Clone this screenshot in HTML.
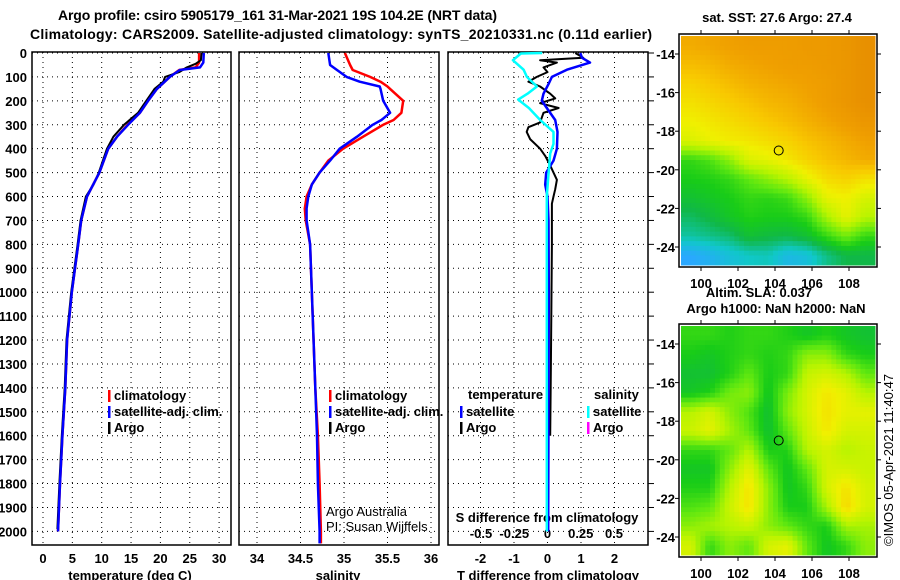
<!DOCTYPE html>
<html><head><meta charset="utf-8"><style>
html,body{margin:0;padding:0;background:#fff;width:900px;height:580px;overflow:hidden}
svg{display:block;font-family:"Liberation Sans",sans-serif}
.b{font-weight:bold;font-size:13px}
.n{font-weight:normal;font-size:13px}
.t{font-weight:bold;font-size:14px}
</style></head><body>
<svg id="s" width="900" height="580" viewBox="0 0 900 580" xmlns="http://www.w3.org/2000/svg">
<text class="t" x="58" y="20" textLength="439">Argo profile: csiro 5905179_161 31-Mar-2021 19S 104.2E (NRT data)</text>
<text class="t" x="30" y="39" textLength="622">Climatology: CARS2009. Satellite-adjusted climatology: synTS_20210331.nc (0.11d earlier)</text>
<g id="g"></g>
</svg>
<script>
// ---- data ----
const depthT = [0,40,60,71,100,150,200,250,300,350,400,500,600,700,800,1000,1200,1400,1600,1800,2000];
const tempClim = [26.6,26.6,26.0,23.2,21.6,19.4,17.9,16.5,14.4,12.6,11.1,9.6,7.5,6.5,6.0,4.9,4.1,3.8,3.3,2.9,2.55];
const tempSat  = [27.4,27.3,26.75,23.3,21.6,19.4,17.9,16.5,14.5,12.6,11.1,9.6,7.5,6.5,6.0,4.9,4.1,3.8,3.3,2.9,2.55];
const depthArgoT = [0,30,45,60,80,100,120,150,200,250,300,350,400,450,500,550,600,700,800,1000,1200,1400,1600,1800,1990];
const tempArgo = [27.0,26.9,26.0,24.5,23.2,20.8,20.5,19.0,17.6,16.2,13.8,12.0,10.9,10.2,9.5,8.6,7.3,6.4,5.9,4.8,4.0,3.7,3.2,2.8,2.45];
const depthS = [0,50,71,100,120,140,150,200,250,280,300,350,400,450,500,550,600,650,700,800,1400,1600,1800,2000,2050];
const salClim = [35.01,35.07,35.1,35.3,35.42,35.5,35.53,35.68,35.66,35.57,35.45,35.22,34.99,34.82,34.72,34.63,34.57,34.55,34.56,34.61,34.67,34.70,34.72,34.735,34.735];
const salSat  = [34.82,34.84,34.92,35.03,35.18,35.41,35.42,35.45,35.53,35.43,35.33,35.15,34.95,34.84,34.72,34.63,34.59,34.57,34.57,34.61,34.67,34.69,34.70,34.72,34.72];
const depthDT = [0,20,40,70,100,130,170,200,230,280,330,400,450,500,550,600,700,1000,1500,2000];
const dTSat = [0.98,1.03,1.27,0.58,0.13,0.03,-0.12,-0.17,-0.02,0.23,0.3,0.28,0.18,-0.04,-0.07,0,0.03,0.04,0.03,0.02];
const depthDA = [0,20,30,40,60,80,100,120,140,170,190,210,230,250,290,310,330,360,400,430,470,500,530,570,600,630,700,800,1000,1300,1600];
const dTArgo = [0.83,1.07,-0.22,0.28,-0.12,0,-0.32,-0.57,-0.22,0.08,0.23,-0.22,0.33,-0.12,-0.22,-0.57,-0.62,-0.52,-0.22,-0.07,0.08,0.18,0.28,0.23,0.18,0.13,0.13,0.13,0.12,0.1,0.08];
const depthDS = [0,2,30,70,100,140,170,195,230,280,330,380,420,500,600,2000];
const dSSat = [-0.04,-0.2,-0.26,-0.18,-0.155,-0.08,-0.15,-0.22,-0.14,-0.055,0.045,0.045,0.02,0.008,-0.005,-0.005];
const tTicks = [0,5,10,15,20,25,30];
const sTicks = [34,34.5,35,35.5,36];
const sTickLabels = ["34","34.5","35","35.5","36"];
const dTicks = [-2,-1,0,1,2];
const dsTicks = [-0.5,-0.25,0,0.25,0.5];
const dsTickLabels = ["-0.5","-0.25","0","0.25","0.5"];
const depthTicks = [0,100,200,300,400,500,600,700,800,900,1000,1100,1200,1300,1400,1500,1600,1700,1800,1900,2000];
const lonTicks = [100,102,104,106,108];
const latTicks = [-14,-16,-18,-20,-22,-24];
const argoLon = 104.2, argoLat = -19.0;
const sstGrid = [
[8.3,8.4,8.5,8.6,8.6,8.6,8.7,8.7,8.8,9.0],
[8.0,8.1,8.3,8.4,8.5,8.6,8.6,8.7,8.8,9.0],
[7.6,7.8,8.0,8.2,8.3,8.4,8.5,8.6,8.8,9.0],
[7.3,7.5,7.7,7.9,8.1,8.2,8.4,8.6,8.8,9.0],
[7.0,7.2,7.4,7.6,7.8,8.0,8.2,8.4,8.6,8.8],
[6.6,6.9,7.1,7.2,7.4,7.6,7.9,8.1,8.3,8.5],
[4.5,4.8,5.5,6.6,6.8,7.2,7.6,7.9,8.1,8.3],
[4.2,4.3,4.5,5.0,5.5,6.0,6.8,7.4,7.6,7.3],
[3.8,4.0,4.2,4.5,4.4,4.6,5.5,6.8,7.0,6.5],
[3.3,3.6,4.0,4.3,4.2,4.2,4.5,5.8,6.8,6.0],
[2.8,3.0,3.2,3.8,3.6,3.5,3.8,4.5,5.2,4.5],
[1.5,1.8,2.2,2.5,2.6,2.0,2.2,3.0,3.5,3.5]];
const slaGrid = [
[4.5,4.5,4.3,4.5,4.5,4.3,4.0,4.3,4.0,3.8],
[4.2,4.0,4.3,4.5,4.3,4.5,5.5,5.5,4.5,4.2],
[3.8,3.8,4.3,5.0,4.2,4.5,6.2,6.5,6.0,5.0],
[4.0,4.3,5.2,5.5,4.0,5.3,6.5,7.2,6.8,6.0],
[6.0,6.5,5.5,4.8,3.8,5.5,6.5,7.3,6.8,6.8],
[6.3,6.8,5.8,5.0,3.8,5.0,6.3,7.2,6.5,6.5],
[4.5,4.5,5.0,6.0,4.2,4.3,6.0,6.5,6.0,6.3],
[4.0,4.0,5.5,6.8,5.0,4.0,5.0,6.5,6.5,6.3],
[4.3,4.3,6.0,7.3,5.5,4.0,4.5,6.5,7.3,6.5],
[4.8,5.0,6.3,7.3,5.5,4.2,4.2,5.8,7.5,6.5],
[5.5,5.8,6.0,6.3,5.5,5.0,4.5,4.2,5.8,5.8],
[6.5,4.5,5.5,5.0,6.5,6.8,5.0,4.0,4.5,5.5]];

// ---- helpers ----
const NS="http://www.w3.org/2000/svg";
const G=document.getElementById('g');
function mk(tag,attrs,txt){const e=document.createElementNS(NS,tag);for(const k in attrs)e.setAttribute(k,attrs[k]);if(txt!==undefined)e.textContent=txt;G.appendChild(e);return e;}
const yD=d=>53+d*0.2392;
const xT=v=>43+v*5.87;
const xS=v=>257+(v-34)*87;
const xDT=v=>547.5+v*33.5;
const xDS=v=>547.5+v*133;
const TOP=52,BOT=545;

function panel(x0,x1,name,vx){
  for(const d of depthTicks){const l=mk('line',{x1:x0,x2:x1,y1:yD(d),y2:yD(d),stroke:'#000','stroke-width':1,'stroke-dasharray':'1 4'});
    }
  for(const x of vx){const l=mk('line',{x1:x,x2:x,y1:TOP,y2:BOT,stroke:'#000','stroke-width':1,'stroke-dasharray':'1 4'});
    }
  const r=mk('rect',{x:x0,y:TOP,width:x1-x0,height:BOT-TOP,fill:'none',stroke:'#000','stroke-width':1.5});
  
}
function line(ds,vs,fx,col,w,name){
  const p=ds.map((d,i)=>fx(vs[i]).toFixed(1)+','+yD(d).toFixed(1)).join(' ');
  const e=mk('polyline',{points:p,fill:'none',stroke:col,'stroke-width':w,'stroke-linejoin':'round'});
  
}
function txt(x,y,s,cls,anchor,name,extra){
  const a=Object.assign({x:x,y:y,class:cls,'text-anchor':anchor||'start'},extra||{});
  const e=mk('text',a,s);return e;
}
function legend(x,y,col,label,name){
  const r=mk('rect',{x:x,y:y-10,width:2.5,height:12,fill:col});
  
  txt(x+6,y,label,'b','start',name);
}

// ---- panel 1 ----
panel(32,231,'temp-panel',tTicks.map(xT));
for(const d of depthTicks) txt(27,yD(d)+5,String(d),'b','end','depth-tick-label');
for(const t of tTicks) txt(xT(t),563,String(t),'b','middle','temp-tick-label');
txt(130,580,'temperature (deg C)','b','middle','temp-axis-title');
line(depthT,tempClim,xT,'#f00',2.5,'temp-climatology-line');
line(depthArgoT,tempArgo,xT,'#000',2,'temp-argo-line');
line(depthT,tempSat,xT,'#00f',2.5,'temp-satellite-line');
legend(108,400,'#f00','climatology','legend-climatology');
legend(108,416,'#00f','satellite-adj. clim.','legend-satellite');
legend(108,432,'#000','Argo','legend-argo');

// ---- panel 2 ----
panel(239,439,'sal-panel',sTicks.map(xS));
sTicks.forEach((s,i)=>txt(xS(s),563,sTickLabels[i],'b','middle','sal-tick-label'));
txt(338,580,'salinity','b','middle','sal-axis-title');
line(depthS,salClim,xS,'#f00',2.5,'sal-climatology-line');
line(depthS,salSat,xS,'#00f',2.5,'sal-satellite-line');
legend(329,400,'#f00','climatology','legend-sal-climatology');
legend(329,416,'#00f','satellite-adj. clim.','legend-sal-satellite');
legend(329,432,'#000','Argo','legend-sal-argo');
txt(326,516,'Argo Australia','n','start','credit-argo-australia');
txt(326,531,'PI: Susan Wijffels','n','start','credit-pi');

// ---- panel 3 ----
panel(448,648,'diff-panel',dTicks.map(xDT));
for(const d of depthTicks){const l=mk('line',{x1:648,x2:654,y1:yD(d),y2:yD(d),stroke:'#000','stroke-width':1});
  }
for(const t of dTicks) txt(xDT(t),563,String(t),'b','middle','tdiff-tick-label');
txt(548,580,'T difference from climatology','b','middle','tdiff-axis-title');
txt(547,522,'S difference from climatology','b','middle','sdiff-axis-title');
dsTicks.forEach((s,i)=>txt(xDS(s),538,dsTickLabels[i],'b','middle','sdiff-tick-label'));
line(depthDA,dTArgo,xDT,'#000',2,'tdiff-argo-line');
line(depthDT,dTSat,xDT,'#00f',2.5,'tdiff-satellite-line');
line(depthDS,dSSat,xDS,'#0ff',2.5,'sdiff-satellite-line');
txt(468,399,'temperature','b','start','legend-temperature-heading');
legend(460,416,'#00f','satellite','legend-tdiff-satellite');
legend(460,432,'#000','Argo','legend-tdiff-argo');
txt(594,399,'salinity','b','start','legend-salinity-heading');
legend(587,416,'#0ff','satellite','legend-sdiff-satellite');
legend(587,432,'#f0f','Argo','legend-sdiff-argo');

// ---- maps ----
const stops=[[0,[16,112,255]],[1.5,[42,168,255]],[2.5,[16,200,200]],[3.5,[16,184,72]],[4.2,[24,204,24]],[5,[96,232,16]],[6,[184,244,0]],[7,[240,240,0]],[7.8,[248,200,0]],[8.5,[240,160,0]],[9,[232,144,0]]];
function cmap(v){for(let i=1;i<stops.length;i++){if(v<=stops[i][0]){const a=stops[i-1],b=stops[i];const f=(v-a[0])/(b[0]-a[0]);
  const c=a[1].map((x,j)=>Math.round(x+(b[1][j]-x)*f));return 'rgb('+c.join(',')+')';}}return 'rgb(232,144,0)';}
function sample(grid,u,v){
  const rows=grid.length,cols=grid[0].length;
  const gx=Math.min(Math.max(u*cols-0.5,0),cols-1),gy=Math.min(Math.max(v*rows-0.5,0),rows-1);
  const x0=Math.floor(gx),y0=Math.floor(gy),x1=Math.min(x0+1,cols-1),y1=Math.min(y0+1,rows-1);
  const fx=gx-x0,fy=gy-y0;
  return grid[y0][x0]*(1-fx)*(1-fy)+grid[y0][x1]*fx*(1-fy)+grid[y1][x0]*(1-fx)*fy+grid[y1][x1]*fx*fy;
}
function map(top,grid,name){
  const L=679,R=877,B=top+233;
  const lonX=lo=>701+(lo-100)*18.5;
  const latY=la=>top+20+(-14-la)*19.3;
  const NC=40,NR=48;
  const x0=L+2,y0=top+2,W=R-2-x0,H=B-2-y0;
  const cw=W/NC,ch=H/NR;
  for(let r=0;r<NR;r++)for(let c=0;c<NC;c++){
    const v=sample(grid,(c+0.5)/NC,(r+0.5)/NR);
    const e=mk('rect',{x:(x0+c*cw).toFixed(2),y:(y0+r*ch).toFixed(2),width:(cw+0.5).toFixed(2),height:(ch+0.5).toFixed(2),fill:cmap(v)});
    
  }
  const f=mk('rect',{x:L,y:top,width:R-L,height:B-top,fill:'none',stroke:'#000','stroke-width':1.5});
  
  for(const lo of lonTicks){
    const t1=mk('line',{x1:lonX(lo),x2:lonX(lo),y1:top-4,y2:top,stroke:'#000'});
    const t2=mk('line',{x1:lonX(lo),x2:lonX(lo),y1:B,y2:B+4,stroke:'#000'});
    txt(lonX(lo),B+21,String(lo),'b','middle',name+'-lon-label');
  }
  for(const la of latTicks){
    const t1=mk('line',{x1:L-4,x2:L,y1:latY(la),y2:latY(la),stroke:'#000'});
    const t2=mk('line',{x1:R,x2:R+4,y1:latY(la),y2:latY(la),stroke:'#000'});
    txt(675,latY(la)+5,String(la),'b','end',name+'-lat-label');
  }
  const c=mk('circle',{cx:lonX(argoLon),cy:latY(argoLat),r:4.5,fill:'none',stroke:'#000','stroke-width':1});
  
}
map(34,sstGrid,'sst-map');
map(324,slaGrid,'sla-map');
txt(777,22,'sat. SST: 27.6 Argo: 27.4','b','middle','sst-map-title');
txt(759,297,'Altim. SLA: 0.037','b','middle','sla-map-title');
txt(776,313,'Argo h1000: NaN h2000: NaN','b','middle','sla-map-subtitle');
txt(0,0,'©IMOS 05-Apr-2021 11:40:47','n','start','imos-timestamp',{transform:'translate(893,546) rotate(-90)'});
</script>
</body></html>
